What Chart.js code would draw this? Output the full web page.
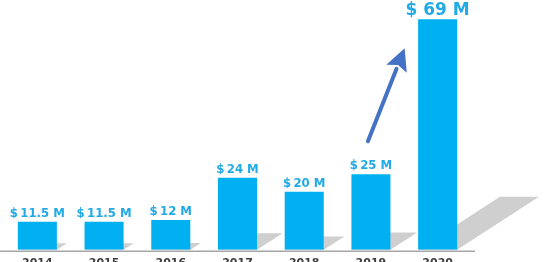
<!DOCTYPE html>
<html>
<head>
<meta charset="utf-8">
<script src="https://cdn.jsdelivr.net/npm/chart.js@4/dist/chart.umd.min.js"></script>
<style>
  html, body { margin: 0; padding: 0; background: #fff; overflow: hidden; }
  #wrap { position: relative; width: 544px; height: 277px; }
</style>
</head>
<body>
<div id="wrap"><canvas id="revenue-chart"></canvas></div>
<script>
const years = ["2014", "2015", "2016", "2017", "2018", "2019", "2020"];
const revenue = [11.5, 11.5, 12, 24, 20, 25, 69];
const revenueLabels = ["$\u200911.5 M", "$\u200911.5 M", "$\u200912 M", "$\u200924 M", "$\u200920 M", "$\u200925 M", "$ 69 M"];
const axisMin = 3.5, axisMax = 74.5;

// fake 3D floor shadow behind each bar
const shadowPlugin = {
  id: "shadows",
  beforeDatasetsDraw(chart) {
    const ctx = chart.ctx;
    const bars = chart.getDatasetMeta(0).data;
    const base = chart.chartArea.bottom;
    ctx.save();
    ctx.fillStyle = "#cfcfcf";
    bars.forEach(bar => {
      const h = base - bar.y;
      const dx = h * 0.355, dy = h * 0.23;
      const l = bar.x - bar.width / 2, r = bar.x + bar.width / 2;
      ctx.beginPath();
      ctx.moveTo(l, base);
      ctx.lineTo(r, base);
      ctx.lineTo(r + dx, base - dy);
      ctx.lineTo(l + dx, base - dy);
      ctx.closePath();
      ctx.fill();
    });
    // axis line
    const a = chart.chartArea;
    ctx.strokeStyle = "#a6a6a6";
    ctx.lineWidth = 1.5;
    ctx.beginPath();
    ctx.moveTo(a.left - 4, a.bottom + 1.5);
    ctx.lineTo(a.right + 4, a.bottom + 1.5);
    ctx.stroke();
    ctx.restore();
  }
};

const labelPlugin = {
  id: "valueLabels",
  afterDatasetsDraw(chart) {
    const ctx = chart.ctx;
    const bars = chart.getDatasetMeta(0).data;
    ctx.save();
    ctx.fillStyle = "#22aae6";
    ctx.textAlign = "center";
    ctx.textBaseline = "alphabetic";
    bars.forEach((bar, i) => {
      const last = i === bars.length - 1;
      ctx.font = last
        ? "bold 17px 'DejaVu Sans', Verdana, sans-serif"
        : "bold 13px 'DejaVu Sans Condensed', 'DejaVu Sans', sans-serif";
      ctx.fillText(revenueLabels[i], bar.x, bar.y - (last ? 4 : 5));
    });

    // growth arrow from 2019 up to 2020
    const b19 = bars[5], b20 = bars[6];
    const x0 = b19.x - 3, y0 = b19.y - 33;
    const x1 = b20.x - 33, y1 = b20.y + 29;
    const ang = Math.atan2(y1 - y0, x1 - x0);
    const head = 22, half = 11;
    const bx = x1 - head * Math.cos(ang), by = y1 - head * Math.sin(ang);
    ctx.strokeStyle = "#4472c4";
    ctx.fillStyle = "#4472c4";
    ctx.lineWidth = 4;
    ctx.lineCap = "round";
    ctx.beginPath();
    ctx.moveTo(x0, y0);
    ctx.lineTo(bx, by);
    ctx.stroke();
    ctx.beginPath();
    ctx.moveTo(x1, y1);
    ctx.lineTo(bx + half * Math.sin(ang), by - half * Math.cos(ang));
    ctx.lineTo(bx + 4 * Math.cos(ang), by + 4 * Math.sin(ang));
    ctx.lineTo(bx - half * Math.sin(ang), by + half * Math.cos(ang));
    ctx.closePath();
    ctx.fill();
    ctx.restore();
  }
};

new Chart(document.getElementById("revenue-chart"), {
  type: "bar",
  data: {
    labels: years,
    datasets: [{
      data: revenue,
      base: axisMin,
      backgroundColor: "#00b0f0",
      categoryPercentage: 1,
      barPercentage: 0.585
    }]
  },
  options: {
    responsive: true,
    maintainAspectRatio: false,
    animation: false,
    layout: { padding: { left: 4, right: 73, top: 0, bottom: 0 } },
    plugins: { legend: { display: false }, tooltip: { enabled: false } },
    scales: {
      x: {
        grid: { display: false, drawTicks: false },
        border: { display: false },
        ticks: {
          padding: 7,
          color: "#404040",
          font: { family: "'DejaVu Sans', Verdana, sans-serif", size: 11, weight: "bold" }
        }
      },
      y: { display: false, min: axisMin, max: axisMax }
    }
  },
  plugins: [shadowPlugin, labelPlugin]
});
</script>
</body>
</html>
